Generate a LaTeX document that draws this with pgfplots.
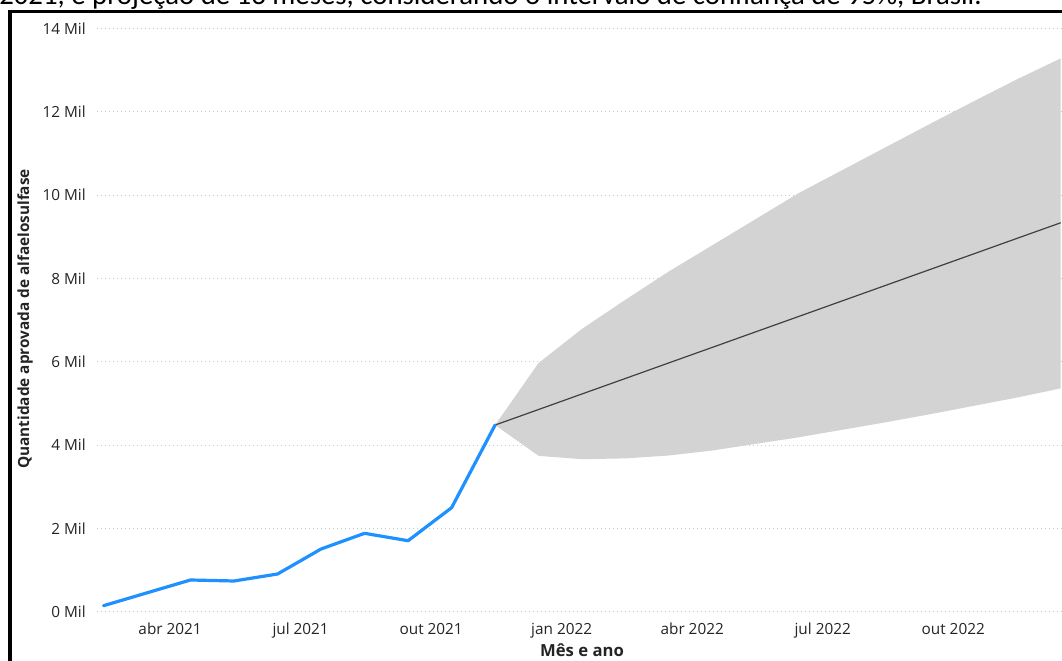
\documentclass[border=0pt]{standalone}
\usepackage{fontspec}
\setmainfont{Open Sans}
\newfontfamily\titlefont{Carlito}
\usepackage{pgfplots}
\pgfplotsset{compat=1.18}
\definecolor{bandgray}{RGB}{211,211,211}
\definecolor{pbblue}{RGB}{30,144,255}
\definecolor{fcgray}{RGB}{64,64,64}
\definecolor{gridgray}{RGB}{200,200,200}
\definecolor{ticktext}{RGB}{37,36,35}
\begin{document}
\begin{tikzpicture}[x=0.75pt,y=0.75pt]
\useasboundingbox (0,0) rectangle (1062,660);
\clip (0,0) rectangle (1062,660);
\begin{axis}[
  at={(72.75pt,33.6pt)}, anchor=south west,
  scale only axis, width=723.75pt, height=446.6pt,
  xmin=1.32, xmax=23.5, ymin=-84, ymax=14208,
  axis line style={draw=none}, major tick length=0pt,
  scaled y ticks=false, scaled x ticks=false,
  ytick={0,2000,4000,6000,8000,10000,12000,14000},
  yticklabels={0 Mil,2 Mil,4 Mil,6 Mil,8 Mil,10 Mil,12 Mil,14 Mil},
  xtick={3,6,9,12,15,18,21},
  xticklabels={abr 2021,jul 2021,out 2021,jan 2022,abr 2022,jul 2022,out 2022},
  ymajorgrids,
  grid style={gridgray, dash pattern=on 0.75pt off 2.25pt, line width=0.75pt},
  tick label style={font=\fontsize{11.5}{13}\selectfont, text=ticktext},
  yticklabel style={anchor=east, inner sep=0pt, xshift=-8.25pt},
  xticklabel style={anchor=base, inner sep=0pt, yshift=-14.1pt},
]
\addplot[draw=none, fill=bandgray] coordinates {
(10.47,4480) (11.47,5970) (12.47,6790) (13.47,7490) (14.47,8170) (15.47,8800)
(16.47,9430) (17.47,10060) (18.47,10610) (19.47,11160) (20.47,11710)
(21.47,12250) (22.47,12780) (23.47,13280)
(23.47,5360) (22.47,5140) (21.47,4940) (20.47,4740) (19.47,4550) (18.47,4370)
(17.47,4190) (16.47,4030) (15.47,3870) (14.47,3750) (13.47,3680) (12.47,3660)
(11.47,3740) (10.47,4480)
};
\addplot[fcgray, line width=0.9pt] coordinates {
(10.47,4480) (11.47,4853) (12.47,5227) (13.47,5600) (14.47,5974) (15.47,6347)
(16.47,6721) (17.47,7094) (18.47,7468) (19.47,7841) (20.47,8215) (21.47,8588)
(22.47,8962) (23.47,9335)
};
\addplot[pbblue, line width=2.4pt, line join=round, line cap=round] coordinates {
(1.47,144) (2.47,453) (3.47,761) (4.47,737) (5.47,905) (6.47,1505)
(7.47,1881) (8.47,1704) (9.47,2496) (10.47,4480)
};
\end{axis}
\node[anchor=base west, inner sep=0pt, font=\titlefont\fontsize{21.6}{25}\selectfont] at (-1,655) {2021, e projeção de 13 meses, considerando o intervalo de confiança de 95\%, Brasil.};
\draw[black, line width=2.6pt] (10,-10) -- (10,649.5);
\draw[black, line width=1.9pt] (8.7,648.5) -- (1075,648.5);
\node[rotate=90, font=\bfseries\fontsize{11.5}{13.5}\selectfont, text=ticktext] at (25,341) {Quantidade aprovada de alfaelosulfase};
\node[anchor=base, font=\bfseries\fontsize{12.5}{15}\selectfont, text=ticktext] at (582,4) {Mês e ano};
\end{tikzpicture}
\end{document}
